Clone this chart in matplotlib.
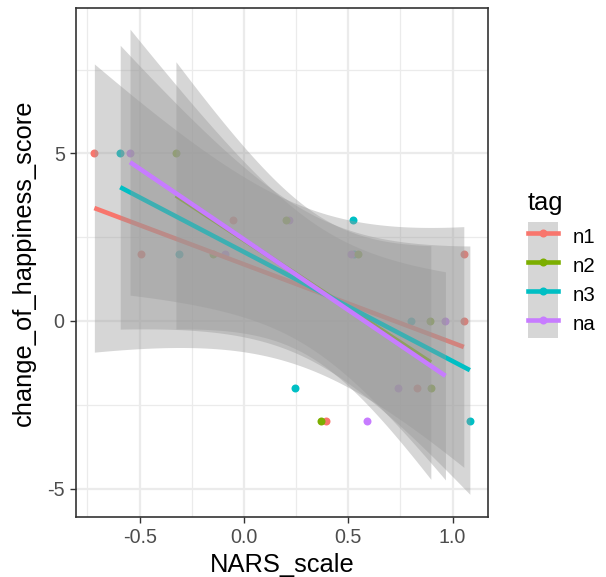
import numpy as np
import matplotlib
matplotlib.use("Agg")
import matplotlib.pyplot as plt
from matplotlib.lines import Line2D
from matplotlib.patches import Patch

plt.rcParams["font.family"] = ["Liberation Sans", "DejaVu Sans"]

# data (NARS_scale, change_of_happiness_score) per tag
tags = ["n1", "n2", "n3", "na"]
colors = ["#F8766D", "#7CAE00", "#00BFC4", "#C77CFF"]

n1_x = [-0.717, -0.495, -0.054, 0.393, 0.832, 1.054, 1.054]
n1_y = [5, 2, 3, -3, -2, 2, 0]
n2_x = [-0.326, -0.150, 0.201, 0.548, 0.369, 0.896, 0.894]
n2_y = [5, 2, 3, 2, -3, -2, 0]
n3_x = [-0.593, -0.313, 0.524, 0.244, 0.803, 1.083, 0.530]
n3_y = [5, 2, 3, -2, 0, -3, 2]
na_x = [-0.546, -0.091, 0.217, 0.511, 0.739, 0.588, 0.966]
na_y = [5, 2, 3, 2, -2, -3, 0]

xs_all = [n1_x, n2_x, n3_x, na_x]
ys_all = [n1_y, n2_y, n3_y, na_y]

x_ticks = [-0.5, 0.0, 0.5, 1.0]
y_ticks = [-5, 0, 5]

# t quantiles (0.975) for the lm confidence band
T975 = {4: 2.776445, 5: 2.570582, 6: 2.446912}

GRID = "#EBEBEB"; INK = "#333333"; TICK = "#4D4D4D"


def lm_band(x, y, n=80):
    x = np.asarray(x, float); y = np.asarray(y, float)
    b, a = np.polyfit(x, y, 1)
    grid = np.linspace(x.min(), x.max(), n)
    fit = a + b * grid
    dof = len(x) - 2
    s = np.sqrt(np.sum((y - (a + b * x)) ** 2) / dof)
    se = s * np.sqrt(1 / len(x) + (grid - x.mean()) ** 2 / np.sum((x - x.mean()) ** 2))
    return grid, fit, fit - T975[dof] * se, fit + T975[dof] * se


fig = plt.figure(figsize=(6.06, 5.77), dpi=100)
ax = fig.add_axes([76 / 606, 1 - 517 / 577, 412 / 606, 509 / 577])

# points first (n2 drawn last, sits on top where they overlap)
for i in [0, 2, 3, 1]:
    ax.scatter(xs_all[i], ys_all[i], s=33, color=colors[i], linewidths=0, zorder=2)

# then ribbon + line per group, in tag order
for i in range(4):
    g, f, lo, hi = lm_band(xs_all[i], ys_all[i])
    ax.fill_between(g, lo, hi, color="#999999", alpha=0.4, linewidth=0, zorder=3 + 2 * i)
    ax.plot(g, f, color=colors[i], lw=3.3, solid_capstyle="butt", zorder=4 + 2 * i)

ax.set_xlim(-0.805, 1.170)
ax.set_ylim(-5.85, 9.34)
ax.set_xticks(x_ticks)
ax.set_xticklabels(["-0.5", "0.0", "0.5", "1.0"])
ax.set_yticks(y_ticks)
ax.set_yticklabels(["-5", "0", "5"])
ax.set_xticks([-0.75, -0.25, 0.25, 0.75], minor=True)
ax.set_yticks([-2.5, 2.5, 7.5], minor=True)
ax.grid(True, which="major", color=GRID, lw=1.6, zorder=0)
ax.grid(True, which="minor", color=GRID, lw=0.9, zorder=0)
ax.set_axisbelow(True)
ax.tick_params(which="major", length=4.6, width=1.0, color=INK, labelsize=14.2,
               labelcolor=TICK, pad=3.5)
ax.tick_params(which="minor", length=0)
for sp in ax.spines.values():
    sp.set_color(INK); sp.set_linewidth(1.2)

ax.set_xlabel("NARS_scale", fontsize=18.4, labelpad=4)
ax.set_ylabel("change_of_happiness_score", fontsize=18.4, labelpad=8)

# legend: grey keys (ribbon colour on white) with line + point
fig.text(528 / 606, 1 - 203 / 577, "tag", fontsize=18.4, ha="left", va="center")
handles = [(Patch(facecolor="#D6D6D6", edgecolor="none"),
            Line2D([], [], color=c, lw=3.3, marker="o", markersize=5.8, markeredgewidth=0))
           for c in colors]
leg = ax.legend(handles, tags, loc="upper left",
                bbox_to_anchor=(528 / 606, 1 - 222 / 577), bbox_transform=fig.transFigure,
                frameon=False, fontsize=14.7, handlelength=1.47,
                handleheight=1.81, labelspacing=0, borderpad=0, borderaxespad=0,
                handletextpad=0.7)

fig.savefig("out.png", dpi=100, facecolor="white")
